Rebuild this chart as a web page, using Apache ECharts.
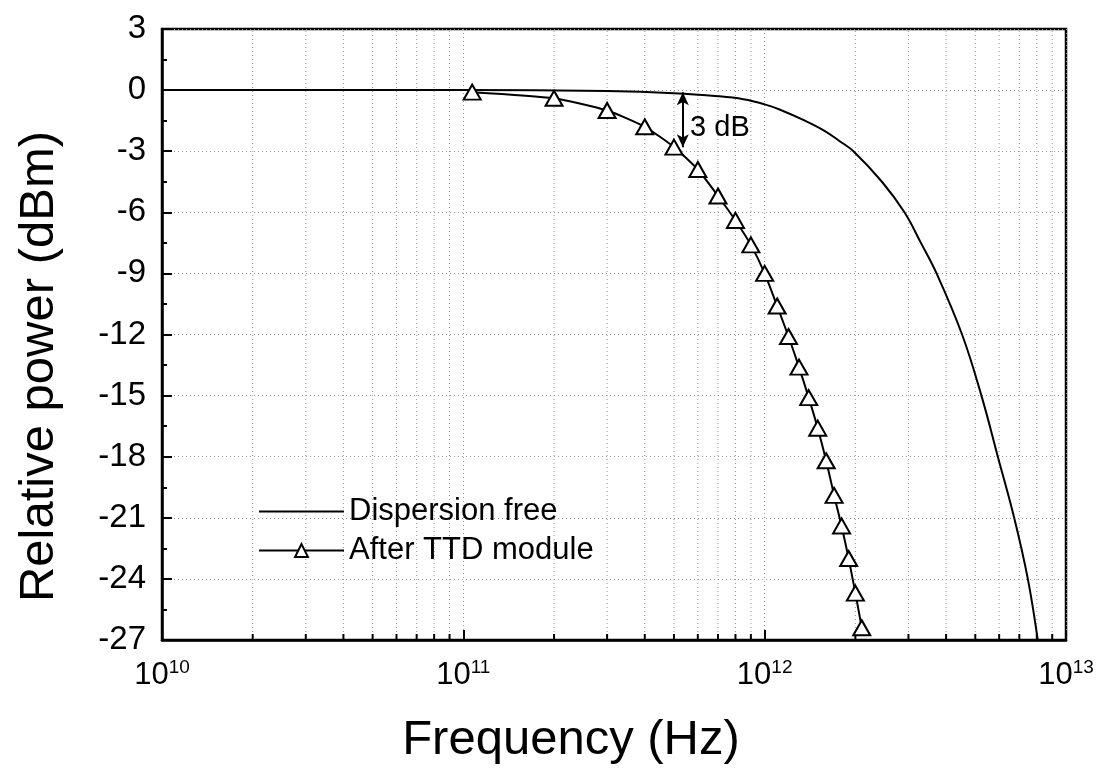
<!DOCTYPE html>
<html>
<head>
<meta charset="utf-8">
<script src="https://cdn.jsdelivr.net/npm/echarts@6/dist/echarts.min.js"></script>
<style>
html, body { margin: 0; padding: 0; background: #fff; }
#container { width: 1107px; height: 778px; }
</style>
</head>
<body>
<div id="container"></div>
<script>
// values
var ttdFreq = [1.07e11, 2e11, 3e11, 4e11, 5e11, 6e11, 7e11, 8e11, 9e11, 1e12,
               1.1e12, 1.2e12, 1.3e12, 1.4e12, 1.5e12, 1.6e12, 1.7e12, 1.8e12, 1.9e12, 2e12, 2.1e12];
var ttdPower = [-0.1, -0.4, -1.0, -1.8, -2.8, -3.9, -5.2, -6.4, -7.6, -9.0,
                -10.6, -12.1, -13.6, -15.1, -16.6, -18.2, -19.9, -21.4, -23.0, -24.7, -26.4];

var freeFreq = [1e10, 1e11, 3e11, 5e11, 7e11, 8.5e11, 1e12, 1.12e12, 1.36e12, 1.58e12,
                1.77e12, 1.97e12, 2.45e12, 2.91e12, 3.3e12, 3.72e12, 4.52e12, 5.24e12,
                5.94e12, 6.73e12, 7.47e12, 8.06e12];
var freePower = [0, 0, -0.05, -0.15, -0.3, -0.45, -0.7, -0.95, -1.5, -2.0,
                 -2.5, -3.0, -4.5, -6.0, -7.5, -9.0, -12.0, -15.0,
                 -18.0, -21.0, -24.0, -27.0];

// minor ticks of the log axis (2..9 x 10^n)
var minorFreq = [2e10, 3e10, 4e10, 5e10, 6e10, 7e10, 8e10, 9e10,
                 2e11, 3e11, 4e11, 5e11, 6e11, 7e11, 8e11, 9e11,
                 2e12, 3e12, 4e12, 5e12, 6e12, 7e12, 8e12, 9e12];

// 3 dB marker
var arrowFreq = 5.35e11;
var arrowTop = -0.1;
var arrowBottom = -2.8;

var yMin = -27, yMax = 3;

function pairs(xs, ys) {
    return xs.map(function (x, i) { return [x, ys[i]]; });
}

var myChart = echarts.init(document.getElementById('container'));
var font = 'Liberation Sans, Arial, sans-serif';

var option = {
    backgroundColor: '#fff',
    animation: false,
    grid: {
        left: 162, right: 41, top: 29, bottom: 138,
        show: true, borderColor: '#000', borderWidth: 2.5
    },
    legend: {
        data: [
            {name: 'Dispersion free', icon: 'path://M0,0L85,0L85,2L0,2Z'},
            'After TTD module'
        ],
        orient: 'vertical',
        left: 253,
        top: 491,
        itemWidth: 85,
        itemHeight: 16,
        itemGap: 8,
        textStyle: {fontSize: 31, color: '#000', fontFamily: font}
    },
    xAxis: {
        type: 'log',
        logBase: 10,
        min: 1e10,
        max: 1e13,
        name: 'Frequency (Hz)',
        nameLocation: 'middle',
        nameGap: 76,
        nameTextStyle: {fontSize: 49, color: '#000', fontFamily: font, padding: [0, 86, 0, 0]},
        axisLine: {onZero: false, lineStyle: {color: '#000', width: 2.5}},
        axisTick: {inside: true, length: 10, lineStyle: {color: '#000', width: 2}},
        axisLabel: {
            margin: 18,
            formatter: function (v) {
                return '{b|10}{s|' + Math.round(Math.log10(v)) + '}';
            },
            rich: {
                b: {fontSize: 31, color: '#000', fontFamily: font},
                s: {fontSize: 19, color: '#000', fontFamily: font, padding: [0, 0, 16, 0]}
            }
        },
        splitLine: {show: true, lineStyle: {color: '#999', type: [1, 3], width: 1}}
    },
    yAxis: {
        type: 'value',
        min: yMin,
        max: yMax,
        interval: 3,
        name: 'Relative power (dBm)',
        nameLocation: 'middle',
        nameGap: 98,
        nameTextStyle: {fontSize: 49, color: '#000', fontFamily: font, padding: [0, 64, 0, 0]},
        axisLine: {show: true, onZero: false, lineStyle: {color: '#000', width: 2.5}},
        axisTick: {show: true, inside: true, length: 10, lineStyle: {color: '#000', width: 2}},
        minorTick: {show: true, splitNumber: 2, length: 5, lineStyle: {color: '#000', width: 2}},
        axisLabel: {margin: 16, fontSize: 33, color: '#000', fontFamily: font},
        splitLine: {show: true, lineStyle: {color: '#999', type: [1, 3], width: 1}}
    },
    series: [
        {
            name: 'minor',
            type: 'custom',
            silent: true,
            z: 1,
            data: minorFreq.map(function (f) { return [f]; }),
            renderItem: function (params, api) {
                var bottom = api.coord([api.value(0), yMin]);
                var top = api.coord([api.value(0), yMax]);
                return {
                    type: 'group',
                    children: [
                        {
                            type: 'line',
                            shape: {x1: bottom[0], y1: bottom[1], x2: top[0], y2: top[1]},
                            style: {stroke: '#999', lineWidth: 1, lineDash: [1, 3]}
                        },
                        {
                            type: 'line',
                            shape: {x1: bottom[0], y1: bottom[1], x2: bottom[0], y2: bottom[1] - 6},
                            style: {stroke: '#000', lineWidth: 2}
                        }
                    ]
                };
            }
        },
        {
            name: 'Dispersion free',
            type: 'line',
            data: pairs(freeFreq, freePower),
            symbol: 'none',
            smooth: 0.4,
            z: 3,
            itemStyle: {color: '#000'},
            lineStyle: {color: '#000', width: 2}
        },
        {
            name: 'After TTD module',
            type: 'line',
            data: pairs(ttdFreq, ttdPower),
            symbol: 'triangle',
            symbolSize: [17, 15],
            showAllSymbol: true,
            smooth: 0.2,
            z: 4,
            lineStyle: {color: '#000', width: 2},
            itemStyle: {color: '#fff', borderColor: '#000', borderWidth: 2},
            markLine: {
                silent: true,
                symbol: ['arrow', 'arrow'],
                symbolSize: [9, 13],
                label: {show: false},
                lineStyle: {color: '#000', width: 2, type: 'solid'},
                data: [[{coord: [arrowFreq, arrowTop]}, {coord: [arrowFreq, arrowBottom]}]]
            },
            markPoint: {
                silent: true,
                symbol: 'circle',
                symbolSize: 1,
                itemStyle: {color: 'transparent'},
                label: {
                    show: true,
                    position: 'right',
                    distance: 2,
                    formatter: '3 dB',
                    fontSize: 29,
                    color: '#000',
                    fontFamily: font
                },
                data: [{coord: [5.55e11, -1.85]}]
            }
        }
    ]
};
myChart.setOption(option);
</script>
</body>
</html>
